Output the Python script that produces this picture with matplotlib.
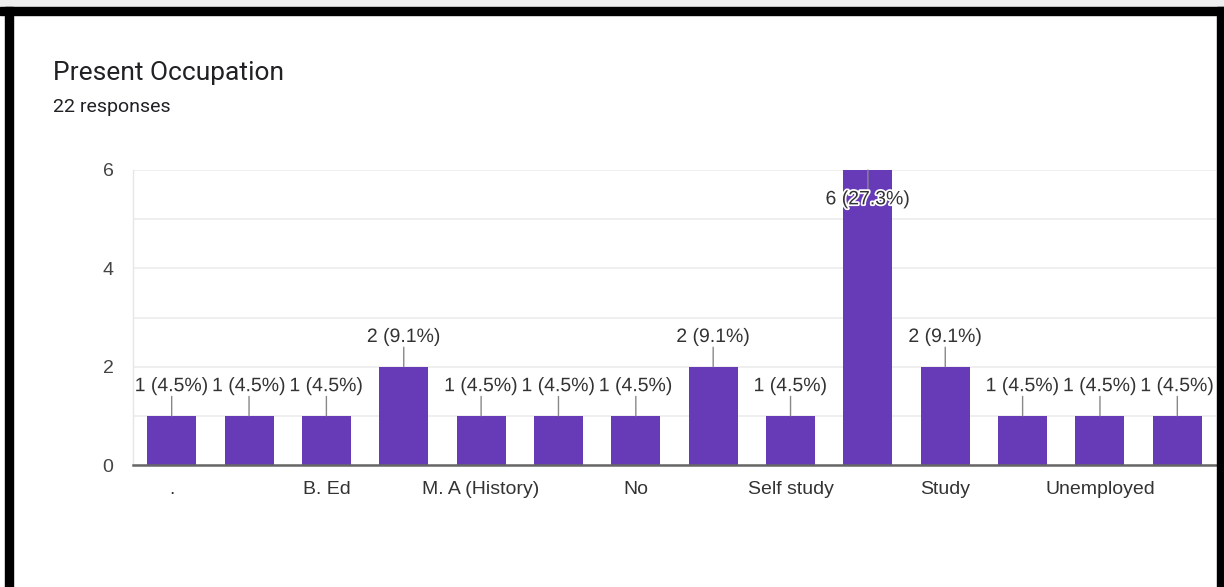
import matplotlib
matplotlib.use("Agg")
import matplotlib.pyplot as plt
import matplotlib.patheffects as pe
from matplotlib.patches import Rectangle
import numpy as np

plt.rcParams['font.family'] = ['Liberation Sans', 'DejaVu Sans']

# Data (hidden alternate axis labels are not readable in the reference)
categories = [".", "", "B. Ed", "", "M. A (History)", "", "No", "",
              "Self study", "", "Study", "", "Unemployed", ""]
counts = [1, 1, 1, 2, 1, 1, 1, 2, 1, 6, 2, 1, 1, 1]
total = 22
title = "Present Occupation"
subtitle = "22 responses"
yticks = [0, 2, 4, 6]

W, H = 1224, 587
fig = plt.figure(figsize=(W / 100, H / 100), dpi=100)
fig.patch.set_facecolor("white")

def fx(px):
    return px / W

def fy(py):
    return 1 - py / H

# light top band and black frame
fig.patches.append(Rectangle((0, fy(6)), 1, fy(0) - fy(6), transform=fig.transFigure,
                             color="#eeeeee", zorder=0))
fig.patches.append(Rectangle((0, fy(14.5)), 1, fy(7) - fy(14.5), transform=fig.transFigure,
                             color="black", zorder=5))
fig.patches.append(Rectangle((fx(5), 0), fx(13) - fx(5), fy(7), transform=fig.transFigure,
                             color="black", zorder=5))
fig.patches.append(Rectangle((fx(1217), 0), 1 - fx(1217), fy(7), transform=fig.transFigure,
                             color="black", zorder=5))

ax = fig.add_axes([fx(133), fy(465), fx(1216) - fx(133), fy(170) - fy(465)])
x = np.arange(len(categories))
ax.bar(x, counts, width=0.634, color="#673ab7", zorder=3)
ax.set_xlim(-0.5, len(categories) - 0.5)
ax.set_ylim(0, 6)

ax.set_yticks(yticks)
ax.set_yticks([1, 3, 5], minor=True)
ax.grid(axis="y", which="both", color="#ececec", linewidth=1.2, zorder=0)
ax.set_axisbelow(True)
ax.tick_params(axis="y", which="both", length=0, pad=14, labelsize=14, labelcolor="#444444")
ax.set_xticks(x)
ax.set_xticklabels(categories)
ax.tick_params(axis="x", length=0, pad=21, labelsize=14, labelcolor="#333333")
for lbl in ax.get_xticklabels():
    lbl.set_va("baseline")

for s in ["top", "right"]:
    ax.spines[s].set_visible(False)
ax.spines["left"].set_color("#e6e6e6")
ax.spines["left"].set_linewidth(1)
ax.spines["bottom"].set_color("#666666")
ax.spines["bottom"].set_linewidth(1.8)
ax.spines["bottom"].set_zorder(4)

halo = [pe.withStroke(linewidth=2.5, foreground="white")]
ymax = 6
for xi, c in zip(x, counts):
    lab = f"{c} ({c / total * 100:.1f}%)"
    if c >= ymax:
        ax.annotate("", xy=(xi, c), xytext=(0, -14), textcoords="offset points",
                    arrowprops=dict(arrowstyle="-", color="#888888", lw=1, shrinkA=0, shrinkB=0),
                    zorder=4)
        ax.annotate(lab, xy=(xi, c), xytext=(0, -21.5), textcoords="offset points",
                    ha="center", va="center", fontsize=14, color="#333333",
                    path_effects=halo, zorder=6)
    else:
        ax.annotate("", xy=(xi, c), xytext=(0, 14), textcoords="offset points",
                    arrowprops=dict(arrowstyle="-", color="#888888", lw=1, shrinkA=0, shrinkB=0),
                    zorder=4)
        ax.annotate(lab, xy=(xi, c), xytext=(0, 21), textcoords="offset points",
                    ha="center", va="center", fontsize=14, color="#333333",
                    path_effects=halo, zorder=6)

fig.text(fx(53), fy(80), title, fontsize=19, color="#202124", ha="left", va="baseline",
         family=["Roboto", "DejaVu Sans"])
fig.text(fx(53), fy(112), subtitle, fontsize=14, color="#202124", ha="left", va="baseline",
         family=["Roboto", "DejaVu Sans"])

fig.savefig("out.png", dpi=100)
